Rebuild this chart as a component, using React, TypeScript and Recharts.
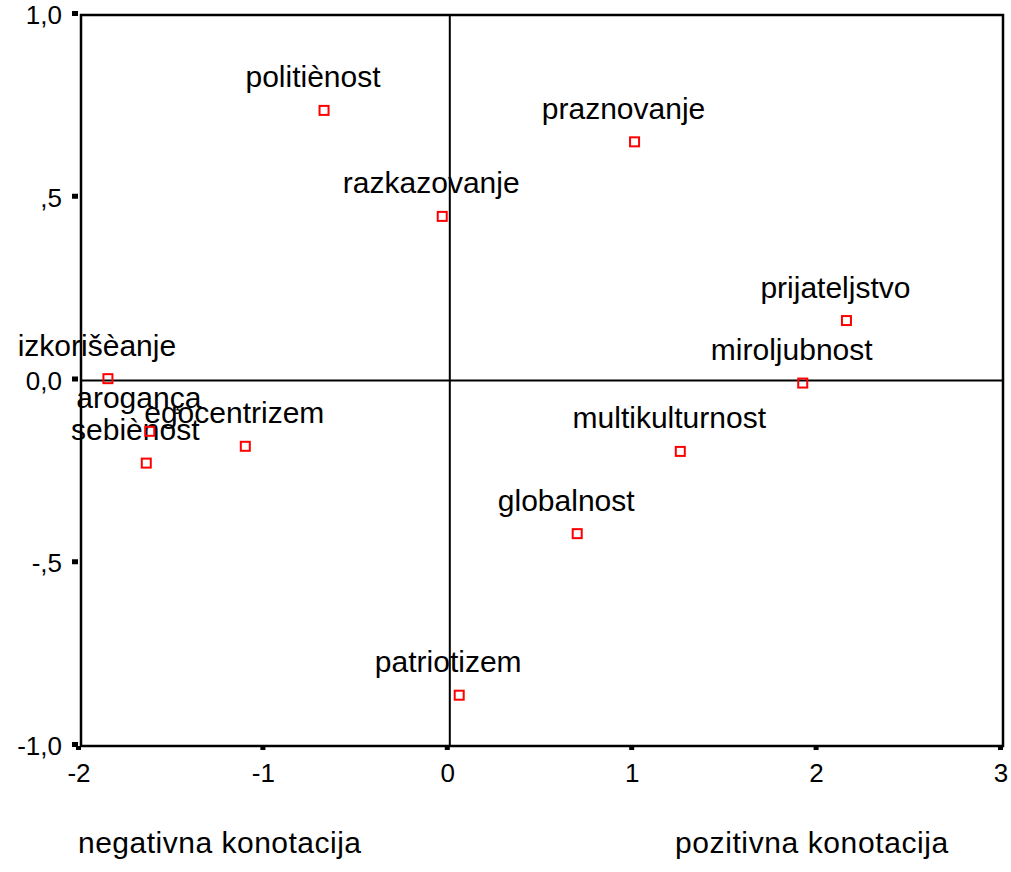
import React from 'react';
import { ScatterChart, Scatter, XAxis, YAxis, ReferenceLine, ReferenceArea } from 'recharts';

const terms = [
  'izkorišèanje',
  'arogança',
  'sebiènost',
  'egocentrizem',
  'politiènost',
  'razkazovanje',
  'praznovanje',
  'patriotizem',
  'globalnost',
  'multikulturnost',
  'miroljubnost',
  'prijateljstvo',
];
const dim1 = [-1.854, -1.627, -1.646, -1.109, -0.682, -0.041, 1.002, 0.051, 0.691, 1.25, 1.914, 2.151];
const dim2 = [0.005, -0.139, -0.226, -0.18, 0.739, 0.449, 0.653, -0.861, -0.419, -0.194, -0.007, 0.164];
const xTicks = [-2, -1, 0, 1, 2, 3];
const yTicks = [-1, -0.5, 0, 0.5, 1];
const yTickLabels = ['-1,0', '-,5', '0,0', ',5', '1,0'];
const axisTitles = ['negativna konotacija', 'pozitivna konotacija'];

const FONT = '"Liberation Sans", Arial, Helvetica, sans-serif';

const data = terms.map((term, i) => ({ term, x: dim1[i], y: dim2[i] }));

const LabelShape = (props: any) => {
  const { cx, cy, payload } = props;
  if (cx == null || cy == null) return null;
  return (
    <text x={cx - 11} y={cy - 23} textAnchor="middle" fontSize={30} fontFamily={FONT} fill="#000">
      {payload.term}
    </text>
  );
};

const MarkerShape = (props: any) => {
  const { cx, cy } = props;
  if (cx == null || cy == null) return null;
  return <rect x={cx - 4.5} y={cy - 4.5} width={9} height={9} fill="none" stroke="#ff0000" strokeWidth={2} />;
};

const XTick = (props: any) => {
  const { x, y, payload } = props;
  return (
    <g>
      <rect x={x - 5} y={y} width={5} height={4} fill="#000" />
      <text x={x - 2} y={y + 36} textAnchor="middle" fontSize={26} fontFamily={FONT} fill="#000">
        {String(payload.value)}
      </text>
    </g>
  );
};

const YTick = (props: any) => {
  const { x, y, payload } = props;
  const idx = yTicks.indexOf(payload.value);
  return (
    <g>
      <rect x={x - 9} y={y - 4} width={6} height={5} fill="#000" />
      <text x={x - 19} y={y + 9} textAnchor="end" fontSize={26} fontFamily={FONT} fill="#000">
        {idx >= 0 ? yTickLabels[idx] : ''}
      </text>
    </g>
  );
};

const AxisTitles = (props: any) => {
  const vb = props.viewBox || { x: 81, y: 746, width: 922, height: 40 };
  return (
    <g>
      <text x={vb.x - 3} y={vb.y + 107} fontSize={30} fontFamily={FONT} fill="#000" letterSpacing={0.5}>
        {axisTitles[0]}
      </text>
      <text x={vb.x + 594} y={vb.y + 107} fontSize={30} fontFamily={FONT} fill="#000" letterSpacing={0.6}>
        {axisTitles[1]}
      </text>
    </g>
  );
};

export default function App() {
  return (
    <div style={{ position: 'absolute', left: 0, top: 0, width: 1011, height: 872, background: '#fff', fontFamily: FONT }}>
      <ScatterChart width={1011} height={872} margin={{ top: 15, right: 8, bottom: 86, left: 0 }}>
        <XAxis
          type="number"
          dataKey="x"
          domain={[-2, 3]}
          ticks={xTicks}
          interval={0}
          axisLine={false}
          tickLine={false}
          tickSize={0}
          tickMargin={0}
          height={40}
          tick={<XTick />}
          label={{ content: (p: any) => <AxisTitles {...p} /> }}
        />
        <YAxis
          type="number"
          dataKey="y"
          domain={[-1, 1]}
          ticks={yTicks}
          interval={0}
          axisLine={false}
          tickLine={false}
          tickSize={0}
          tickMargin={0}
          width={81}
          tick={<YTick />}
        />
        <ReferenceArea
          x1={-2}
          x2={3}
          y1={-1}
          y2={1}
          fill="none"
          fillOpacity={0}
          stroke="#000"
          strokeWidth={2.5}
          ifOverflow="visible"
        />
        <ReferenceLine x={0} stroke="#000" strokeWidth={2} />
        <ReferenceLine y={0} stroke="#000" strokeWidth={2} />
        <Scatter data={data} shape={<LabelShape />} isAnimationActive={false} />
        <Scatter data={data} shape={<MarkerShape />} isAnimationActive={false} />
      </ScatterChart>
    </div>
  );
}
